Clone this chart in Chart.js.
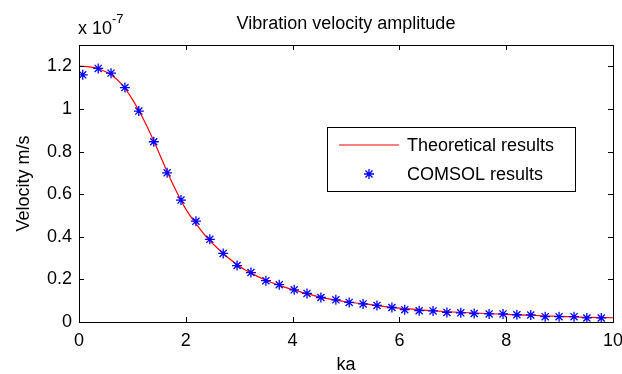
<!DOCTYPE html>
<html>
<head>
<meta charset="utf-8">
<script src="https://cdn.jsdelivr.net/npm/chart.js@4/dist/chart.umd.min.js"></script>
<style>
  html, body { margin: 0; padding: 0; background: #fff; }
</style>
</head>
<body>
<canvas id="myChart" width="622" height="374"></canvas>
<script>
// values in units of 1e-7 m/s
const kaTheory = [0, 0.2, 0.4, 0.6, 0.8, 1.0, 1.2, 1.4, 1.6, 1.8, 2.0, 2.2, 2.4, 2.6, 2.8, 3.0, 3.25, 3.5, 3.75, 4.0, 4.5, 5.0, 5.5, 6.0, 6.5, 7.0, 7.5, 8.0, 8.5, 9.0, 9.5, 10];
const velTheory = [1.2, 1.197, 1.185, 1.16, 1.115, 1.045, 0.955, 0.85, 0.735, 0.625, 0.53, 0.458, 0.395, 0.345, 0.3, 0.262, 0.226, 0.196, 0.172, 0.152, 0.118, 0.095, 0.08, 0.065, 0.055, 0.047, 0.041, 0.036, 0.031, 0.026, 0.022, 0.02];

const kaComsol = [0.07, 0.36, 0.60, 0.86, 1.12, 1.40, 1.65, 1.91, 2.19, 2.45, 2.70, 2.96, 3.22, 3.50, 3.75, 4.03, 4.27, 4.53, 4.81, 5.06, 5.32, 5.58, 5.86, 6.10, 6.37, 6.63, 6.89, 7.15, 7.40, 7.68, 7.94, 8.20, 8.46, 8.73, 8.99, 9.27, 9.51, 9.78];
const velComsol = [1.16, 1.19, 1.168, 1.10, 0.99, 0.846, 0.70, 0.572, 0.473, 0.388, 0.322, 0.265, 0.232, 0.194, 0.175, 0.151, 0.134, 0.115, 0.104, 0.092, 0.085, 0.078, 0.068, 0.058, 0.053, 0.052, 0.045, 0.043, 0.040, 0.038, 0.038, 0.034, 0.033, 0.025, 0.025, 0.025, 0.019, 0.019];

const seriesNames = ['Theoretical results', 'COMSOL results'];
const xTicks = [0, 2, 4, 6, 8, 10];
const yTicks = [0, 0.2, 0.4, 0.6, 0.8, 1, 1.2];

const FONT = 'Arial, "Liberation Sans", Helvetica, sans-serif';
const RED = '#ff0000';
const BLUE = '#0000ff';

const pts = (xs, ys) => xs.map((x, i) => ({ x: x, y: ys[i] }));

// matlab-ish box, inward ticks, title, exponent and legend
const matlabPlot = {
  id: 'matlabPlot',
  afterDraw(chart) {
    const ctx = chart.ctx;
    const a = chart.chartArea;
    const xs = chart.scales.x, ys = chart.scales.y;
    ctx.save();
    ctx.strokeStyle = '#000';
    ctx.lineWidth = 1;
    ctx.strokeRect(Math.round(a.left) + 0.5, Math.round(a.top) + 0.5, Math.round(a.right - a.left), Math.round(a.bottom - a.top));
    ctx.beginPath();
    xTicks.forEach(v => {
      const px = Math.round(xs.getPixelForValue(v)) + 0.5;
      ctx.moveTo(px, a.bottom); ctx.lineTo(px, a.bottom - 5);
      ctx.moveTo(px, a.top); ctx.lineTo(px, a.top + 5);
    });
    yTicks.forEach(v => {
      const py = Math.round(ys.getPixelForValue(v)) + 0.5;
      ctx.moveTo(a.left, py); ctx.lineTo(a.left + 5, py);
      ctx.moveTo(a.right, py); ctx.lineTo(a.right - 5, py);
    });
    ctx.stroke();

    // title
    ctx.fillStyle = '#000';
    ctx.font = '18px ' + FONT;
    ctx.textAlign = 'center';
    ctx.textBaseline = 'alphabetic';
    ctx.fillText('Vibration velocity amplitude', (a.left + a.right) / 2, 29);

    // exponent label
    ctx.textAlign = 'left';
    const base = 'x 10';
    ctx.fillText(base, a.left - 1, 34);
    const w = ctx.measureText(base).width;
    ctx.font = '13px ' + FONT;
    ctx.fillText('-7', a.left - 1 + w, 23);

    // legend
    const lx = 327, ly = 127, lw = 248, lh = 64;
    ctx.fillStyle = '#fff';
    ctx.fillRect(lx, ly, lw, lh);
    ctx.strokeStyle = '#000';
    ctx.lineWidth = 1;
    ctx.strokeRect(lx + 0.5, ly + 0.5, lw, lh);
    const ds = chart.data.datasets;
    ctx.beginPath();
    ctx.strokeStyle = RED;
    ctx.lineWidth = 1.2;
    ctx.moveTo(339, 145); ctx.lineTo(399, 145);
    ctx.stroke();
    ctx.strokeStyle = BLUE;
    ctx.fillStyle = BLUE;
    ctx.lineWidth = 1.3;
    Chart.helpers.drawPoint(ctx, { pointStyle: 'star', radius: 5, rotation: 0, borderWidth: 1.3 }, 369, 174);
    ctx.fillStyle = '#000';
    ctx.font = '18px ' + FONT;
    ctx.textBaseline = 'middle';
    ctx.fillText(ds[0].label, 407, 146);
    ctx.fillText(ds[1].label, 407, 175);
    ctx.restore();
  }
};

const ctx = document.querySelector('#myChart').getContext('2d');

const myChart = new Chart(ctx, {
  type: 'scatter',
  data: {
    datasets: [{
      label: seriesNames[0],
      data: pts(kaTheory, velTheory),
      showLine: true,
      borderColor: RED,
      backgroundColor: RED,
      borderWidth: 1.2,
      pointRadius: 0,
      cubicInterpolationMode: 'monotone',
      order: 2,
    }, {
      label: seriesNames[1],
      data: pts(kaComsol, velComsol),
      showLine: false,
      pointStyle: 'star',
      pointRadius: 5,
      pointBorderWidth: 1.3,
      borderColor: BLUE,
      backgroundColor: BLUE,
      order: 1,
    }],
  },
  options: {
    responsive: false,
    animation: false,
    devicePixelRatio: 1,
    layout: { padding: { left: 0, top: 45, right: 9, bottom: 0 } },
    plugins: {
      legend: { display: false },
      title: { display: false },
      tooltip: { enabled: false },
    },
    scales: {
      x: {
        type: 'linear',
        min: 0,
        max: 10,
        grid: { display: false, drawTicks: false },
        border: { display: false },
        afterBuildTicks: s => { s.ticks = xTicks.map(v => ({ value: v })); },
        afterFit: s => { s.height = 52; s.paddingLeft = 0; s.paddingRight = 0; },
        ticks: { padding: 8, color: '#000', font: { family: FONT, size: 18 } },
        title: { display: true, text: 'ka', color: '#000', font: { family: FONT, size: 18, lineHeight: 1 }, padding: { top: 0, bottom: 0 } },
      },
      y: {
        type: 'linear',
        min: 0,
        max: 1.3,
        grid: { display: false, drawTicks: false },
        border: { display: false },
        afterBuildTicks: s => { s.ticks = yTicks.map(v => ({ value: v })); },
        afterFit: s => { s.width = 79; s.paddingTop = 0; s.paddingBottom = 0; },
        ticks: {
          padding: 7, color: '#000', font: { family: FONT, size: 18 },
          callback: v => String(+v.toFixed(1)),
        },
        title: { display: true, text: 'Velocity m/s', color: '#000', font: { family: FONT, size: 18 }, padding: { top: 13, bottom: 0 } },
      }
    },
  },
  plugins: [matlabPlot],
});
</script>
</body>
</html>
